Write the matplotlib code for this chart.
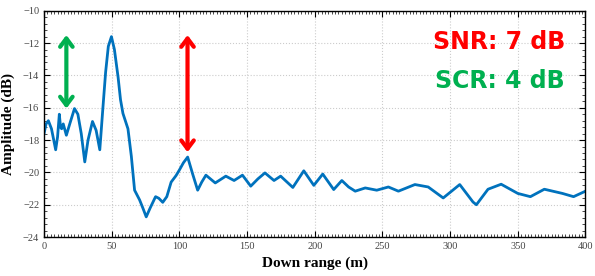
import matplotlib
matplotlib.use('Agg')
import matplotlib.pyplot as plt
from matplotlib.ticker import MultipleLocator, AutoMinorLocator

# data
range_m = [0, 1.5, 3.2, 5.5, 8.6, 10, 11.3, 12.2, 13, 14.2,
           16.5, 19, 22.5, 25, 27.5, 30.1, 32.5, 35.8, 38.5, 41.2,
           43.5, 45.5, 47.5, 49.8, 52, 54.7, 56.5, 58.3, 62, 64.5,
           66.9, 70.6, 73, 75.5, 78.4, 82.4, 84.8, 87.7, 90.7, 93.9,
           97.5, 100, 103, 106.1, 109.8, 113.5, 116.5, 119.6, 126.5, 134.3,
           140.4, 146.6, 152.7, 158, 163.2, 169.9, 174.8, 183.8, 191.9, 199.3,
           205.9, 214, 220, 225, 229.9, 237.3, 245.8, 254.4, 261.8, 274,
           283.8, 294.9, 307.1, 316.9, 319.4, 328, 337.7, 350, 359.3, 369.6,
           383, 391.2, 400]
amp_db = [-17.6, -17.0, -16.8, -17.3, -18.6, -17.8, -16.4, -17.2, -17.3, -17.0,
          -17.7, -17.0, -16.05, -16.4, -17.6, -19.35, -18.0, -16.85, -17.4, -18.6,
          -16.0, -13.8, -12.2, -11.6, -12.4, -14.1, -15.5, -16.35, -17.3, -19.0,
          -21.1, -21.7, -22.2, -22.75, -22.2, -21.5, -21.6, -21.85, -21.5, -20.6,
          -20.2, -19.85, -19.4, -19.05, -20.1, -21.1, -20.6, -20.17, -20.65, -20.23,
          -20.5, -20.17, -20.85, -20.4, -20.03, -20.5, -20.23, -20.93, -19.9, -20.8,
          -20.1, -21.06, -20.5, -20.9, -21.16, -20.96, -21.1, -20.9, -21.16, -20.75,
          -20.9, -21.58, -20.75, -21.83, -22.0, -21.04, -20.73, -21.3, -21.5, -21.04,
          -21.3, -21.5, -21.16]

# double arrows: x position, top, bottom
scr_arrow = [16.5, -11.5, -16.05]
snr_arrow = [106, -11.5, -18.75]
snr_text = 'SNR: 7 dB'
scr_text = 'SCR: 4 dB'

fig = plt.figure(figsize=(5.95, 2.76), dpi=100)
ax = fig.add_axes([0.074, 0.141, 0.91, 0.82])

ax.plot(range_m, amp_db, color='#0072BD', lw=2, solid_joinstyle='round')

ax.set_xlim(0, 400)
ax.set_ylim(-24, -10)
ax.xaxis.set_major_locator(MultipleLocator(50))
ax.xaxis.set_minor_locator(MultipleLocator(2.5))
ax.yaxis.set_major_locator(MultipleLocator(2))
ax.yaxis.set_minor_locator(AutoMinorLocator(5))
ax.tick_params(which='both', direction='in', top=True, right=True,
               labelsize=7.5, labelcolor='#444444')
ax.tick_params(which='major', length=4, width=0.8)
ax.tick_params(which='minor', length=2, width=0.5)
for lbl in ax.get_xticklabels() + ax.get_yticklabels():
    lbl.set_family('Liberation Serif')
ax.grid(True, which='major', color='#cccccc', ls=':', lw=0.8)
for s in ax.spines.values():
    s.set_linewidth(1)

ax.set_xlabel('Down range (m)', family='Liberation Serif', fontweight='bold',
              fontsize=11, labelpad=4)
ax.set_ylabel('Amplitude (dB)', family='Liberation Serif', fontweight='bold',
              fontsize=11, labelpad=6)

# arrows
ax.annotate('', xy=(scr_arrow[0], scr_arrow[1]), xytext=(scr_arrow[0], scr_arrow[2]),
            arrowprops=dict(arrowstyle='<->,head_length=0.6,head_width=0.45',
                            color='#00B050', lw=3, shrinkA=0, shrinkB=0))
ax.annotate('', xy=(snr_arrow[0], snr_arrow[1]), xytext=(snr_arrow[0], snr_arrow[2]),
            arrowprops=dict(arrowstyle='<->,head_length=0.6,head_width=0.45',
                            color='#FF0000', lw=3, shrinkA=0, shrinkB=0))

ax.text(0.962, 0.86, snr_text, transform=ax.transAxes, ha='right', va='center',
        color='#FF0000', fontsize=17, fontweight='bold')
ax.text(0.962, 0.69, scr_text, transform=ax.transAxes, ha='right', va='center',
        color='#00B050', fontsize=17, fontweight='bold')

plt.savefig('out.png', dpi=100)
